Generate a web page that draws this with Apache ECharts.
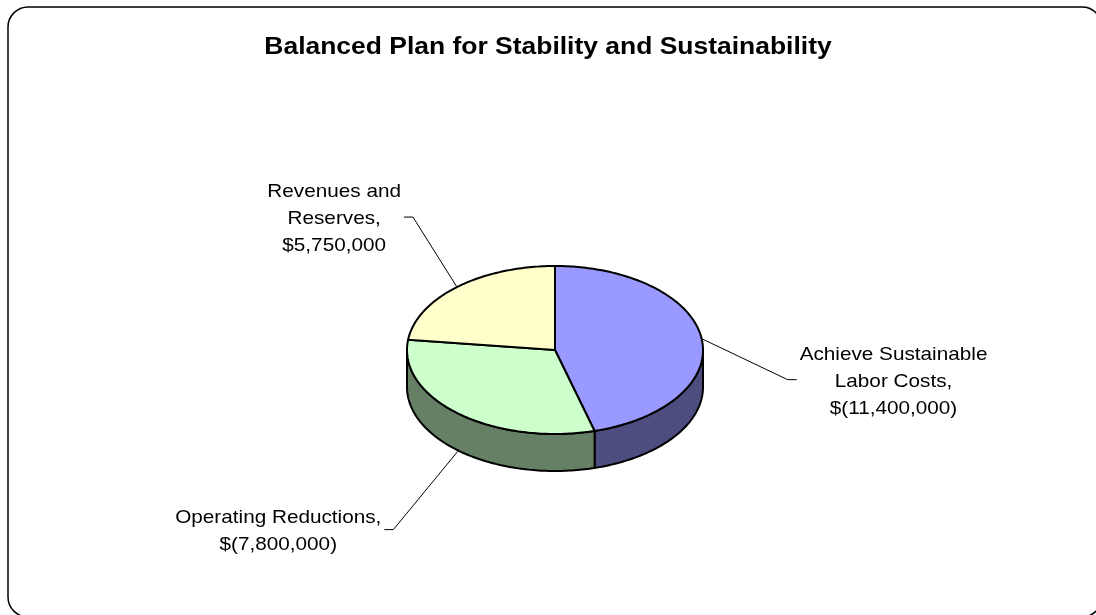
<!DOCTYPE html>
<html><head><meta charset="utf-8">
<script src="https://cdn.jsdelivr.net/npm/echarts@6/dist/echarts.min.js"></script>
<style>html,body{margin:0;padding:0;background:#fff}#c{width:1096px;height:615px}</style>
</head><body><div id="c"></div>
<script>
// ---- data ----
const titleText = 'Balanced Plan for Stability and Sustainability';
const categories = ['Achieve Sustainable\nLabor Costs', 'Operating Reductions', 'Revenues and\nReserves'];
const values = [-11400000, -7800000, 5750000];

// ---- styles / layout ----
const topColors = ['#9999FF', '#CCFFCC', '#FFFFCC'];
const sideColors = ['#4D4D80', '#668066', '#808066'];
const pieGeom = { cx: 555, cy: 350, rx: 148, ry: 84, depth: 37 };
const labelOffsets = [[86, 41], [-65, 79], [-44, -70]];
const labelFont = '18.5px "Liberation Sans", Arial, sans-serif';
const labelScaleX = 1.12;

function fmtMoney(v) {
  const s = Math.abs(v).toLocaleString('en-US');
  return v < 0 ? '$(' + s + ')' : '$' + s;
}
const absVals = values.map(v => Math.abs(v));
const total = absVals.reduce((a, b) => a + b, 0);
const startAngles = [];
{ let acc = 0; absVals.forEach(v => { startAngles.push(acc / total * 360); acc += v; }); }

const ctx = document.createElement('canvas').getContext('2d');
ctx.font = labelFont;

function P(deg, dy) {
  const r = deg * Math.PI / 180;
  return [pieGeom.cx + pieGeom.rx * Math.sin(r), pieGeom.cy - pieGeom.ry * Math.cos(r) + (dy || 0)];
}
function arc(a1, a2, dy) {
  const pts = [];
  const n = Math.max(2, Math.ceil(Math.abs(a2 - a1)));
  for (let i = 0; i <= n; i++) pts.push(P(a1 + (a2 - a1) * i / n, dy));
  return pts;
}

function renderItem(params, api) {
  const i = params.dataIndex;
  const v = api.value(0);
  const a1 = startAngles[i];
  const a2 = a1 + v / total * 360;
  const children = [];
  const s = Math.max(a1, 90), e = Math.min(a2, 270);
  if (e > s) {
    const pts = arc(s, e, 0).concat(arc(e, s, pieGeom.depth));
    children.push({ type: 'polygon', z2: 1, shape: { points: pts },
      style: { fill: sideColors[i], stroke: '#000', lineWidth: 2, lineJoin: 'round' } });
  }
  const top = [[pieGeom.cx, pieGeom.cy]].concat(arc(a1, a2, 0));
  children.push({ type: 'polygon', z2: 2, shape: { points: top },
    style: { fill: topColors[i], stroke: '#000', lineWidth: 2, lineJoin: 'round' } });
  const m = (a1 + a2) / 2;
  const st = P(m, (m > 90 && m < 270) ? pieGeom.depth : 0);
  const off = labelOffsets[i];
  const elbow = [st[0] + off[0], st[1] + off[1]];
  const dir = off[0] >= 0 ? 1 : -1;
  const end = [elbow[0] + dir * 9, elbow[1]];
  children.push({ type: 'polyline', z2: 3, shape: { points: [st, elbow, end] },
    style: { stroke: '#000', lineWidth: 1, fill: null } });
  const text = categories[i] + ',\n' + fmtMoney(values[i]);
  const w = Math.max.apply(null, text.split('\n').map(t => ctx.measureText(t).width)) * labelScaleX;
  children.push({ type: 'text', z2: 3, x: end[0] + dir * (3 + w / 2), y: end[1] + 2, scaleX: labelScaleX,
    style: { text: text, x: 0, y: 0, font: labelFont, fill: '#000', align: 'center', verticalAlign: 'middle', lineHeight: 27 } });
  return { type: 'group', children: children };
}

const chart = echarts.init(document.getElementById('c'), null, { renderer: 'canvas' });
chart.setOption({
  animation: false,
  backgroundColor: '#fff',
  graphic: [
    { type: 'rect', shape: { x: 8, y: 7, width: 1094, height: 610, r: 20 },
      style: { fill: null, stroke: '#000', lineWidth: 1.5 }, z: -1 },
    { type: 'text', x: 548, y: 48, scaleX: 1.15,
      style: { text: titleText, x: 0, y: 0, font: 'bold 23px "Liberation Sans", Arial, sans-serif', fill: '#000', align: 'center', verticalAlign: 'middle' } }
  ],
  series: [{
    type: 'custom',
    coordinateSystem: 'none',
    silent: true,
    renderItem: renderItem,
    data: absVals.map(v => [v])
  }]
});
</script></body></html>
